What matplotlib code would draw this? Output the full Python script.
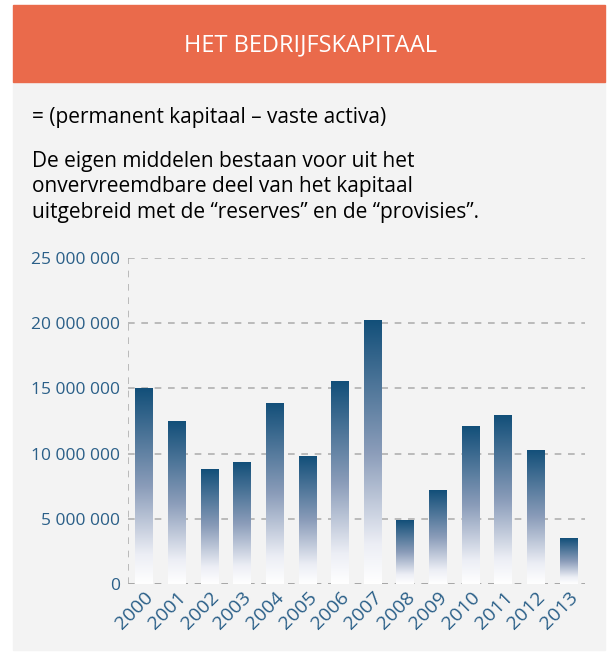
import numpy as np
import matplotlib
matplotlib.use("Agg")
from matplotlib import pyplot as plt
from matplotlib.colors import LinearSegmentedColormap
from matplotlib.patches import Rectangle
from matplotlib.ticker import FuncFormatter

plt.rcParams['font.family'] = ['Open Sans', 'DejaVu Sans']

years = ["2000", "2001", "2002", "2003", "2004", "2005", "2006",
         "2007", "2008", "2009", "2010", "2011", "2012", "2013"]
values = [15.0e6, 12.5e6, 8.8e6, 9.35e6, 13.9e6, 9.8e6, 15.55e6,
          20.25e6, 4.9e6, 7.2e6, 12.1e6, 12.95e6, 10.3e6, 3.5e6]
y_ticks = [0, 5e6, 10e6, 15e6, 20e6, 25e6]

title = "HET BEDRIJFSKAPITAAL"
formula = "= (permanent kapitaal \u2013 vaste activa)"
intro = ("De eigen middelen bestaan voor uit het\n"
         "onvervreemdbare deel van het kapitaal\n"
         "uitgebreid met de \u201creserves\u201d en de \u201cprovisies\u201d.")

W, H = 609, 660
fig = plt.figure(figsize=(W / 100, H / 100), dpi=100)
fig.patch.set_facecolor("white")

# panel + header (behind the axes)
fig.patches.append(Rectangle((13 / W, 1 - 650 / H), 592 / W, 568 / H,
                             transform=fig.transFigure, color="#f3f3f3", zorder=-10))
fig.patches.append(Rectangle((13 / W, 1 - 82 / H), 592 / W, 77 / H,
                             transform=fig.transFigure, color="#ea6a4b", zorder=-10))
fig.text(310 / W, 1 - 45 / H, title, color="white", fontsize=17,
         ha="center", va="center")
fig.text(32 / W, 1 - 118 / H, formula, color="black", fontsize=15,
         ha="left", va="center")
fig.text(32 / W, 1 - 151 / H, intro, color="black", fontsize=15,
         ha="left", va="top", linespacing=1.28)

ax = fig.add_axes([128 / W, 1 - 584 / H, 457 / W, 326 / H])
ax.set_facecolor("none")

cmap = LinearSegmentedColormap.from_list(
    "bar", [(0, "#ffffff"), (0.15, "#eceef5"), (0.5, "#8a9cb9"), (1, "#124f79")])
grad = np.linspace(0, 1, 256).reshape(-1, 1)

x = np.arange(len(years))
bars = ax.bar(x, values, width=0.55, color="none", zorder=2)
for b in bars:
    x0, w, h = b.get_x(), b.get_width(), b.get_height()
    im = ax.imshow(grad, cmap=cmap, origin="lower", aspect="auto",
                   extent=[x0, x0 + w, 0, h], zorder=2)
    im.set_clip_path(b)

ax.set_xlim(-0.5, len(years) - 0.5)
ax.set_ylim(0, 25e6)
ax.set_yticks(y_ticks)
ax.yaxis.set_major_formatter(FuncFormatter(lambda v, p: f"{int(v):,}".replace(",", " ")))
ax.set_xticks(x)
ax.set_xticklabels(years, rotation=45, ha="right", rotation_mode="anchor")

for s in ax.spines.values():
    s.set_visible(False)
ax.tick_params(length=0, colors="#2a5f88")
ax.tick_params(axis="y", pad=6, labelsize=12.5)
ax.tick_params(axis="x", pad=3, labelsize=14)

for v in y_ticks:
    ax.axhline(v, color="#9a9a9a" if v == 0 else "#b0b0b0", lw=1.2,
               ls=(0, (4, 4)), zorder=1)
ax.axvline(-0.5, color="#b0b0b0", lw=1.2, ls=(0, (4, 4)), zorder=1)

fig.savefig("out.png", dpi=100)
